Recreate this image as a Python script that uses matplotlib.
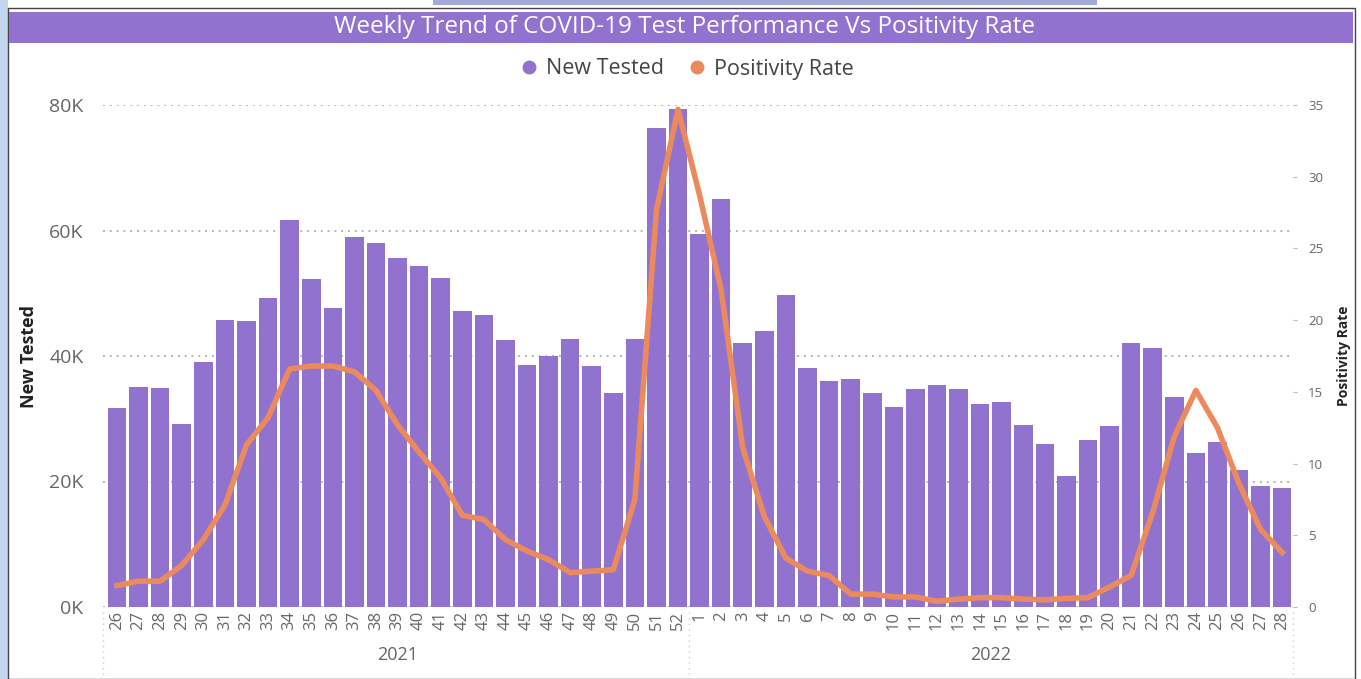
import matplotlib
matplotlib.use("Agg")
from matplotlib import pyplot as plt
from matplotlib.patches import Rectangle
from matplotlib.lines import Line2D
import numpy as np

plt.rcParams["font.family"] = ["Open Sans", "DejaVu Sans"]

weeks_2021 = list(range(26, 53))
weeks_2022 = list(range(1, 29))
week_labels = [str(w) for w in weeks_2021 + weeks_2022]
years = ["2021", "2022"]

new_tested = [31.7, 35.1, 34.9, 29.2, 39.0, 45.7, 45.6, 49.2, 61.7, 52.3,
              47.6, 59.0, 58.0, 55.6, 54.3, 52.4, 47.2, 46.5, 42.5, 38.6,
              40.0, 42.7, 38.4, 34.1, 42.7, 76.3, 79.4,
              59.4, 65.0, 42.1, 44.0, 49.7, 38.1, 36.0, 36.3, 34.1, 31.9,
              34.7, 35.4, 34.7, 32.4, 32.7, 29.0, 26.0, 20.9, 26.6, 28.8,
              42.1, 41.3, 33.5, 24.5, 26.3, 21.8, 19.3, 19.0]
new_tested = [v * 1000 for v in new_tested]

positivity = [1.5, 1.8, 1.8, 2.9, 4.7, 7.1, 11.3, 13.2, 16.6, 16.8,
              16.8, 16.4, 15.1, 12.7, 10.8, 9.0, 6.4, 6.1, 4.7, 3.9,
              3.3, 2.4, 2.5, 2.6, 7.5, 27.7, 34.7,
              28.7, 22.1, 11.1, 6.3, 3.4, 2.5, 2.2, 0.9, 0.9, 0.7,
              0.7, 0.4, 0.55, 0.65, 0.65, 0.55, 0.5, 0.6, 0.65, 1.4,
              2.2, 6.6, 11.9, 15.1, 12.5, 8.6, 5.4, 3.8]

bar_color = "#9173cf"
line_color = "#eb8a5c"
grey = "#666666"

fig = plt.figure(figsize=(13.61, 6.79), dpi=100)
fig.patch.set_facecolor("white")

# outer frame bits
fig.add_artist(Rectangle((0, 0), 8 / 1361, 1, transform=fig.transFigure,
                         facecolor="#c3d6ee", edgecolor="none"))
fig.add_artist(Rectangle((433 / 1361, 1 - 5 / 679), 664 / 1361, 5 / 679,
                         transform=fig.transFigure, facecolor="#a3aad9", edgecolor="none"))
fig.add_artist(Rectangle((8 / 1361, 0), 1347 / 1361, 1 - 8 / 679, transform=fig.transFigure,
                         facecolor="none", edgecolor="#444444", linewidth=1))

# title bar
fig.add_artist(Rectangle((9 / 1361, 1 - 43 / 679), 1344 / 1361, 31 / 679,
                         transform=fig.transFigure, facecolor="#9173cf", edgecolor="none"))
fig.text(0.503, 1 - 27 / 679, "Weekly Trend of COVID-19 Test Performance Vs Positivity Rate",
         ha="center", va="center", color="white", fontsize=17.5)

ax = fig.add_axes([103 / 1361, 72 / 679, 1190 / 1361, 502 / 679])
x = np.arange(len(week_labels))
ax.bar(x, new_tested, width=0.86, color=bar_color, zorder=2)
ax.set_ylim(0, 80000)
ax.set_xlim(-0.65, len(x) - 0.5)
ax.set_yticks([0, 20000, 40000, 60000, 80000])
ax.set_yticklabels(["0K", "20K", "40K", "60K", "80K"], fontsize=14, color=grey)
ax.yaxis.grid(True, linestyle=(0, (1, 2.5)), color="#b5b5b5", linewidth=1.4, zorder=0)
ax.set_xticks(x)
ax.set_xticklabels(week_labels, rotation=90, fontsize=12, color=grey)
ax.tick_params(axis="both", length=0)
ax.tick_params(axis="x", pad=3)
ax.tick_params(axis="y", pad=14)
for s in ax.spines.values():
    s.set_visible(False)
ax.set_ylabel("New Tested", fontsize=13, fontweight="bold", color="#222222", labelpad=8)

ax2 = ax.twinx()
ax2.plot(x, positivity, color=line_color, linewidth=4, solid_joinstyle="round", zorder=3)
ax2.set_ylim(0, 35)
ax2.set_yticks(range(0, 36, 5))
ax2.tick_params(axis="y", length=3, color="#bbbbbb", labelsize=9.5, labelcolor=grey, pad=8)
for s in ax2.spines.values():
    s.set_visible(False)
ax2.set_ylabel("Positivity Rate", fontsize=10, fontweight="bold", color="#222222", labelpad=10)

# year labels and separators
n21 = len(weeks_2021)
ax.text((n21 - 1) / 2, -0.095, years[0], transform=ax.get_xaxis_transform(),
        ha="center", va="center", fontsize=13, color=grey)
ax.text(n21 + (len(weeks_2022) - 1) / 2, -0.095, years[1], transform=ax.get_xaxis_transform(),
        ha="center", va="center", fontsize=13, color=grey)
for xp in [-0.65, n21 - 0.5, len(x) - 0.5]:
    ax.add_line(Line2D([xp, xp], [-0.01, -0.135], transform=ax.get_xaxis_transform(),
                       linestyle=(0, (1, 3)), color="#cccccc", linewidth=1, clip_on=False))

handles = [Line2D([], [], marker="o", linestyle="none", color=bar_color, markersize=9),
           Line2D([], [], marker="o", linestyle="none", color=line_color, markersize=9)]
fig.legend(handles, ["New Tested", "Positivity Rate"], loc="center",
           bbox_to_anchor=(0.5, 1 - 69 / 679), ncol=2, frameon=False, fontsize=15.5,
           handletextpad=-0.2, columnspacing=0.5, labelcolor="#444444")

fig.savefig("out.png", dpi=100)
